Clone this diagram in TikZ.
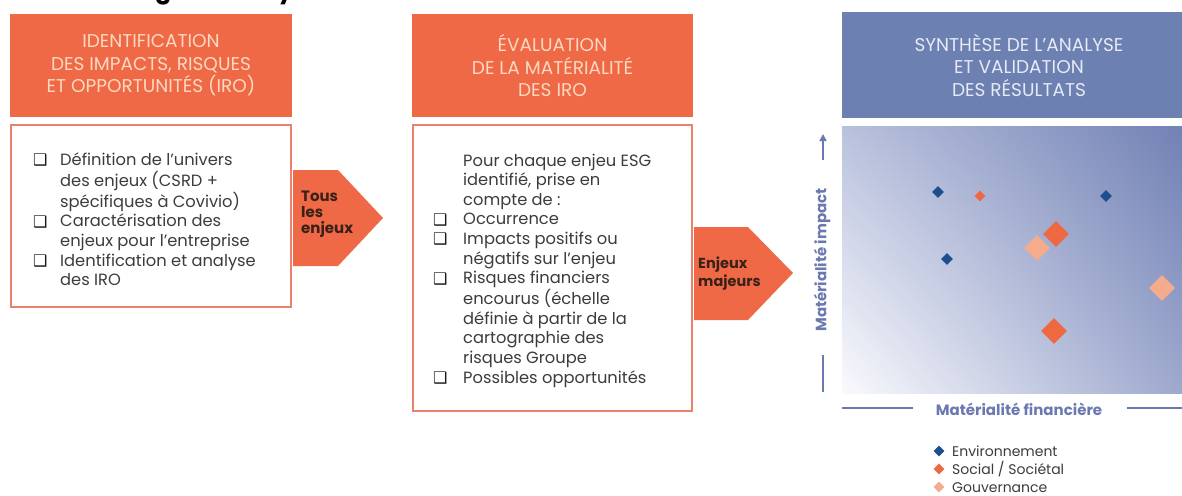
\documentclass[tikz,border=0pt]{standalone}
\usepackage{fontspec}
\setmainfont{Poppins}
\newfontfamily\dejavu{DejaVu Sans}
\usetikzlibrary{arrows.meta,shapes.geometric,shadings}
\definecolor{orangeH}{HTML}{EF6947}
\definecolor{boxline}{HTML}{E9826C}
\definecolor{peachtxt}{HTML}{FCD9C0}
\definecolor{blueH}{HTML}{6D80B2}
\definecolor{bluetxt}{HTML}{E6EAF4}
\definecolor{txt}{HTML}{3C3C3C}
\definecolor{arrowtxt}{HTML}{3A2117}
\definecolor{axiscol}{HTML}{6B79B1}
\definecolor{dkblue}{HTML}{1D4E8F}
\definecolor{orangeD}{HTML}{EE6842}
\definecolor{peachD}{HTML}{F5AC8C}
\definecolor{plotTL}{HTML}{B9C1DD}
\definecolor{plotTR}{HTML}{6F7FB3}
\definecolor{plotBL}{HTML}{FAFAFD}
\definecolor{plotBR}{HTML}{9AA5CC}
\newcommand{\chk}{\smash{\raisebox{-0.5pt}{\dejavu\bfseries\fontsize{16}{16}\selectfont\color{black!90}❑}}}
\tikzset{
  hdr/.style={fill=orangeH, text=peachtxt, align=center, inner sep=0pt,
    font=\fontsize{18.5}{22.5}\selectfont},
  hdrblue/.style={fill=blueH, text=bluetxt, align=center, inner sep=0pt,
    font=\fontsize{18.5}{22.5}\selectfont},
  bodybox/.style={draw=boxline, line width=2pt, fill=white, inner sep=0pt},
  bodytxt/.style={text=txt, inner sep=0pt, anchor=base west,
    font=\fontsize{16.3}{19.6}\selectfont},
  arrowshape/.style={fill=orangeH},
  arrowlbl/.style={text=arrowtxt, inner sep=0pt, anchor=base west, align=left,
    font=\bfseries\fontsize{15}{16}\selectfont},
  axisline/.style={draw=axiscol, line width=1.3pt},
  axislbl/.style={text=axiscol, inner sep=0pt, font=\bfseries\fontsize{15}{16}\selectfont},
  dia/.style={diamond, inner sep=0pt, minimum width=#1, minimum height=#1},
  legtxt/.style={text=txt, inner sep=0pt, anchor=base west, font=\fontsize{14}{16}\selectfont},
}
\begin{document}
\begin{tikzpicture}[x=1pt,y=-1pt]
\useasboundingbox (0,0) rectangle (1182,495);
\fill[white] (0,0) rectangle (1182,495);
% cropped title
\node[anchor=base west, inner sep=0pt, font=\bfseries\fontsize{24}{24}\selectfont] (title) at (23,-1) {Méthodologie d'analyse};

% column 1
\node[hdr, minimum width=282, minimum height=103] (h1) at (151,65.5)
  {IDENTIFICATION\\DES IMPACTS, RISQUES\\ET OPPORTUNITÉS (IRO)};
\node[bodybox, minimum width=280, minimum height=182] (b1) at (151,216) {};
\node[bodytxt] (t1) at (33,165) {\begin{tabular}[t]{@{}p{27pt}@{}l@{}}
\chk & Définition de l'univers\\
 & des enjeux (CSRD +\\
 & spécifiques à Covivio)\\
\chk & Caractérisation des\\
 & enjeux pour l'entreprise\\
\chk & Identification et analyse\\
 & des IRO
\end{tabular}};
\fill[arrowshape] (293,170) -- (338,170) -- (383,218) -- (338,266) -- (293,266) -- cycle;
\node[arrowlbl] (a1) at (301,233) {Tous\\les\\enjeux};

% column 2
\node[hdr, minimum width=281, minimum height=103] (h2) at (552.5,65.5)
  {ÉVALUATION\\DE LA MATÉRIALITÉ\\DES IRO};
\node[bodybox, minimum width=279, minimum height=286] (b2) at (552.5,268) {};
\node[bodytxt] (t2) at (433,166) {\begin{tabular}[t]{@{}p{30pt}@{}l@{}}
 & Pour chaque enjeu ESG\\
 & identifié, prise en\\
 & compte de :\\
\chk & Occurrence\\
\chk & Impacts positifs ou\\
 & négatifs sur l'enjeu\\
\chk & Risques financiers\\
 & encourus (échelle\\
 & définie à partir de la\\
 & cartographie des\\
 & risques Groupe\\
\chk & Possibles opportunités
\end{tabular}};
\fill[arrowshape] (694,227) -- (748,227) -- (793,273) -- (748,320) -- (694,320) -- cycle;
\node[arrowlbl, font=\bfseries\fontsize{14.5}{17.5}\selectfont] (a2) at (698,286) {Enjeux\\majeurs};

% column 3
\node[hdrblue, minimum width=354, minimum height=106] (h3) at (1019,65)
  {SYNTHÈSE DE L’ANALYSE\\ET VALIDATION\\DES RÉSULTATS};
\shade[upper left=plotTL, upper right=plotTR, lower left=plotBL, lower right=plotBR]
  (842,126) rectangle (1196,393);
\node[inner sep=0pt, minimum width=354, minimum height=267] (plot) at (1019,259.5) {};

% axes
\coordinate (ya1) at (823,160);
\coordinate (ya2) at (823,134);
\coordinate (yb1) at (823,355);
\coordinate (yb2) at (823,392);
\draw[axisline, -{Triangle[length=7pt,width=7pt]}] (ya1) -- (ya2);
\draw[axisline] (yb1) -- (yb2);
\node[axislbl, rotate=90] (ylbl) at (822,260) {Matérialité impact};
\node[axislbl, anchor=base] (xlbl) at (1019,415) {Matérialité financière};
\coordinate (xa1) at (842,408);
\coordinate (xa2) at (913,408);
\coordinate (xb1) at (1127,408);
\coordinate (xb2) at (1182,408);
\draw[axisline] (xa1) -- (xa2);
\draw[axisline] (xb1) -- (xb2);

% points
\node[dia=12, fill=dkblue] (p1) at (938,192) {};
\node[dia=11, fill=orangeD] (p2) at (980,196) {};
\node[dia=12, fill=dkblue] (p3) at (1106,196) {};
\node[dia=26, fill=peachD] (p5) at (1037,248) {};
\node[dia=26, fill=orangeD] (p4) at (1056,234) {};
\node[dia=12, fill=dkblue] (p6) at (947,259) {};
\node[dia=26, fill=peachD] (p7) at (1162,288) {};
\node[dia=26, fill=orangeD] (p8) at (1054,331) {};

% legend
\node[dia=11, fill=dkblue] (l1) at (939,451) {};
\node[dia=11, fill=orangeD] (l2) at (939,469) {};
\node[dia=11, fill=peachD] (l3) at (939,487) {};
\node[legtxt] (lt1) at (952,456) {Environnement};
\node[legtxt] (lt2) at (952,474) {Social / Sociétal};
\node[legtxt] (lt3) at (952,492) {Gouvernance};
\end{tikzpicture}
\end{document}
